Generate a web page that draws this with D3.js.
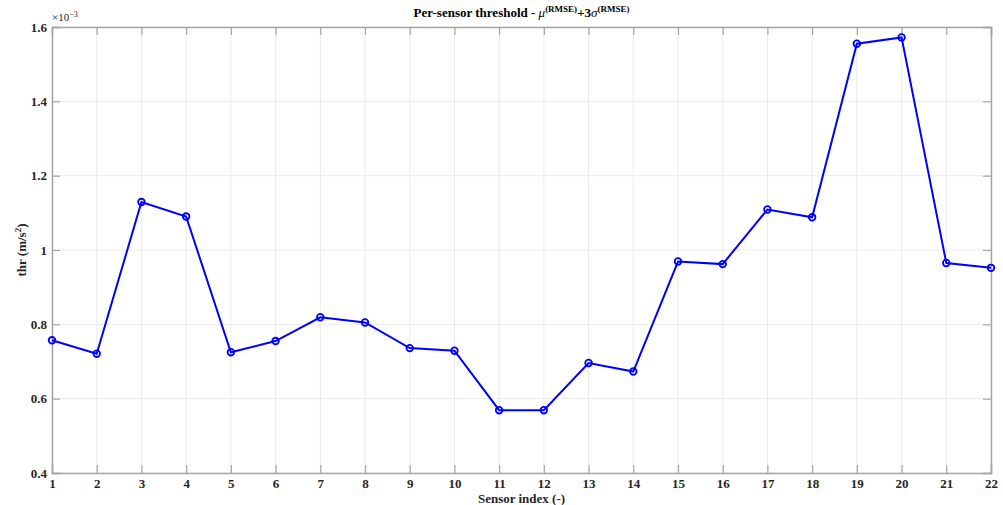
<!DOCTYPE html>
<html>
<head>
<meta charset="utf-8">
<script src="https://cdn.jsdelivr.net/npm/d3@7"></script>
<style>
  body { margin: 0; background: #fff; }
  svg { display: block; font-family: "Liberation Serif", "Times New Roman", serif; }
</style>
</head>
<body>
<svg id="chart" width="1003" height="505"></svg>
<script>
// sensor indices and per-sensor threshold (x 1e-3)
var sensors = d3.range(1, 23);
var thr = [0.757, 0.721, 1.129, 1.090, 0.725, 0.755, 0.819, 0.805, 0.736, 0.729, 0.569,
           0.569, 0.696, 0.673, 0.969, 0.962, 1.109, 1.088, 1.555, 1.572, 0.965, 0.952];
var yTicks = [0.4, 0.6, 0.8, 1, 1.2, 1.4, 1.6];

var svg = d3.select('#chart'),
    margin = {left: 52, right: 12, top: 27, bottom: 32},
    W = 1003, H = 505,
    axisCol = '#a6a6a6';

var x = d3.scaleLinear().domain([1, 22]).range([margin.left, W - margin.right]);
var y = d3.scaleLinear().domain([0.4, 1.6]).range([H - margin.bottom, margin.top]);

// grid
var grid = svg.append('g');
grid.selectAll('.gx').data(sensors).enter().append('line')
    .attr('x1', function(d){ return x(d); }).attr('x2', function(d){ return x(d); })
    .attr('y1', y(0.4)).attr('y2', y(1.6))
    .attr('stroke', '#ebebeb').attr('stroke-width', 1);
grid.selectAll('.gy').data(yTicks).enter().append('line')
    .attr('x1', x(1)).attr('x2', x(22))
    .attr('y1', function(d){ return y(d); }).attr('y2', function(d){ return y(d); })
    .attr('stroke', '#ebebeb').attr('stroke-width', 1);

// axes with inward ticks on all sides
var fmt = function(d){ return d3.format('')(d); };
var xb = svg.append('g').attr('transform', 'translate(0,' + y(0.4) + ')')
    .call(d3.axisBottom(x).tickValues(sensors).tickSize(-8).tickPadding(6).tickFormat(d3.format('d')));
var xt = svg.append('g').attr('transform', 'translate(0,' + y(1.6) + ')')
    .call(d3.axisTop(x).tickValues(sensors).tickSize(-8).tickFormat(''));
var yl = svg.append('g').attr('transform', 'translate(' + x(1) + ',0)')
    .call(d3.axisLeft(y).tickValues(yTicks).tickSize(-8).tickPadding(5).tickFormat(fmt));
var yr = svg.append('g').attr('transform', 'translate(' + x(22) + ',0)')
    .call(d3.axisRight(y).tickValues(yTicks).tickSize(-8).tickFormat(''));

[xb, xt, yl, yr].forEach(function(g){
    g.select('.domain').attr('stroke', axisCol).attr('stroke-width', 1.5);
    g.selectAll('.tick line').attr('stroke', axisCol).attr('stroke-width', 1.2);
    g.selectAll('.tick text').attr('fill', '#262626')
        .style('font-family', '"Liberation Serif", serif')
        .style('font-size', '13px').style('font-weight', 'bold');
});

// line + markers
var line = d3.line()
    .x(function(d, i){ return x(sensors[i]); })
    .y(function(d){ return y(d); });

svg.append('path').datum(thr)
    .attr('d', line)
    .attr('fill', 'none')
    .attr('stroke', '#0000ff')
    .attr('stroke-width', 2);

svg.selectAll('.pt').data(thr).enter().append('circle')
    .attr('cx', function(d, i){ return x(sensors[i]); })
    .attr('cy', function(d){ return y(d); })
    .attr('r', 3.3)
    .attr('fill', 'none')
    .attr('stroke', '#0000ff')
    .attr('stroke-width', 1.8);

// exponent
var ex = svg.append('text').attr('x', 52).attr('y', 21)
    .attr('fill', '#262626').style('font-size', '11px');
ex.append('tspan').text('\u00d710');
ex.append('tspan').attr('dy', -4).style('font-size', '8px').text('\u22123');

// title
var title = svg.append('text')
    .attr('x', (x(1) + x(22)) / 2).attr('y', 17)
    .attr('text-anchor', 'middle')
    .attr('fill', '#000')
    .style('font-size', '13px').style('font-weight', 'bold');
title.append('tspan').text('Per-sensor threshold - ');
title.append('tspan').style('font-style', 'italic').style('font-weight', 'normal').text('\u03bc');
title.append('tspan').attr('dy', -5).style('font-size', '9px').text('(RMSE)');
title.append('tspan').attr('dy', 5).text('+3');
title.append('tspan').style('font-style', 'italic').style('font-weight', 'normal').text('\u03c3');
title.append('tspan').attr('dy', -5).style('font-size', '9px').text('(RMSE)');

// axis labels
svg.append('text')
    .attr('x', (x(1) + x(22)) / 2).attr('y', 503)
    .attr('text-anchor', 'middle').attr('fill', '#262626')
    .style('font-size', '13px').style('font-weight', 'bold')
    .text('Sensor index (-)');

var ylab = svg.append('text')
    .attr('transform', 'translate(26,' + y(1) + ') rotate(-90)')
    .attr('text-anchor', 'middle').attr('fill', '#262626')
    .style('font-size', '13px').style('font-weight', 'bold');
ylab.append('tspan').text('thr (m/s');
ylab.append('tspan').attr('dy', -5).style('font-size', '9px').text('2');
ylab.append('tspan').attr('dy', 5).text(')');
</script>
</body>
</html>
